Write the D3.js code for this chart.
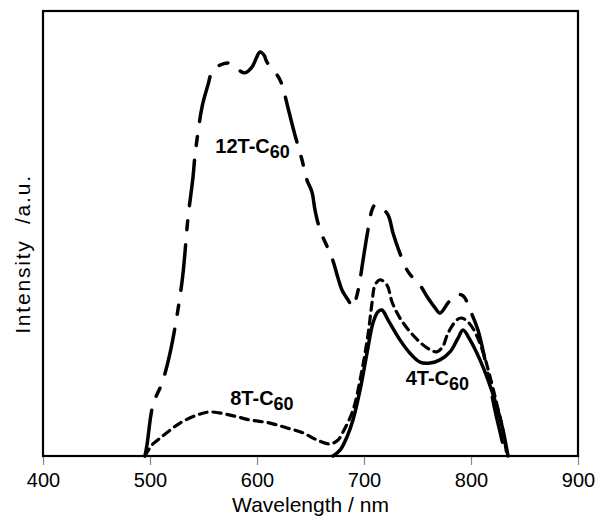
<!DOCTYPE html>
<html><head><meta charset="utf-8">
<script src="https://cdn.jsdelivr.net/npm/d3@7"></script>
<style>body{margin:0;background:#fff}svg{display:block}text{font-family:"Liberation Sans",Arial,sans-serif}</style>
</head><body>
<svg id="c" width="599" height="517"></svg>
<script>
// Data (wavelength nm, relative intensity 0-100)
const xTicks = [400, 500, 600, 700, 800, 900];
const wl12T = [495.3,497.2,502.8,511.2,518.7,529.9,535.5,540.2,542.1,548.6,554.2,557.9,565,573.8,581.3,588.8,595.3,602.8,606.5,609.3,616.8,621.5,624.3,629,635.5,642.1,646.7,651.4,654.2,658.9,670.1,675.7,679.4,685,689.7,693.5,696.3,699.1,703.7,707.5,710.3,715,722.4,727.1,731.8,740.2,745.8,752.3,759.8,766.4,771,778.5,785,792.5,799.1,806.5,813.1,822.4,829.9,831.8];
const int12T = [0,2.5,11.5,16.4,23.1,39.1,53.5,62.7,67.6,78.4,83.4,86.3,87.8,88.3,87.0,86.1,87.4,90.8,90.1,88.5,86.3,84.5,82.7,78.2,72.1,66.5,62.0,59.3,55.3,50.8,44.5,40.0,37.3,35.1,33.5,36.2,39.6,44.0,50.8,55.3,56.4,56.0,54.2,50.1,46.7,41.8,40.0,38.4,35.5,33.3,32.1,34.4,36.2,36.0,32.8,28.3,21.6,10.3,2.5,0];
const wl8T = [495.3,501.9,509.3,518.7,528,543.9,556.1,574.8,593.5,612.1,628,643,656.1,668.2,675.7,680.4,689.7,698.1,703.7,707.5,710.3,715,721.5,726.2,733.6,744.9,758.9,768.2,773.8,778.5,786.9,791.6,797.2,802.8,811.2,817.8,824.3,829.9,833.6];
const int8T = [0,2.5,4.0,5.8,7.4,9.2,9.9,9.2,8.1,7.4,6.3,5.2,3.6,2.7,3.6,5.4,10.3,19.3,27.2,34.4,38.4,39.6,38.4,34.6,31.0,27.4,24.3,23.4,24.7,27.6,30.6,31.0,30.1,28.3,23.4,17.8,11.5,5.8,0];
const wl4T = [671,677.6,684.1,689.7,696.3,702.8,708.4,713.1,716.8,722.4,733.6,743,752.3,761.7,771,780.4,787.9,792.5,799.1,808.4,815.9,824.3,829.9,834.6];
const int4T = [0,1.3,4.3,8.1,14.8,23.1,29.9,32.4,32.8,30.6,26.1,23.1,21.1,20.9,21.6,23.4,26.5,28.3,26.1,21.6,17.1,11.0,5.8,0];
const labels = [
  {main:"12T-C", sub:"60", wl:561, y:68.1},
  {main:"8T-C", sub:"60", wl:575, y:11.5},
  {main:"4T-C", sub:"60", wl:739, y:16}
];

const svg = d3.select("#c");
const L = 43, R = 578, T = 11, B = 456;
const x = d3.scaleLinear().domain([400, 900]).range([L, R]);
const y = d3.scaleLinear().domain([0, 100]).range([B, T]);

// x axis ticks
const ax = svg.append("g").attr("transform", `translate(0,${B})`)
  .call(d3.axisBottom(x).tickValues(xTicks).tickSize(9).tickPadding(8).tickFormat(d3.format("d")));
ax.select(".domain").remove();
ax.selectAll("line").attr("stroke", "#888").attr("stroke-width", 1.2);
ax.selectAll("text").attr("font-size", 20).attr("fill", "#000").attr("font-family", "Liberation Sans, Arial, sans-serif");

const line = d3.line().x(d => x(d[0])).y(d => y(d[1])).curve(d3.curveCatmullRom.alpha(0.5));
const mk = (w, v) => w.map((d, i) => [d, v[i]]);

svg.append("path").datum(mk(wl12T, int12T)).attr("d", line)
  .attr("fill", "none").attr("stroke", "#000").attr("stroke-width", 3.5)
  .attr("stroke-dasharray", "46,15,9,15").attr("stroke-linecap", "round");
svg.append("path").datum(mk(wl8T, int8T)).attr("d", line)
  .attr("fill", "none").attr("stroke", "#000").attr("stroke-width", 3.2)
  .attr("stroke-dasharray", "8,6").attr("stroke-linecap", "round");
svg.append("path").datum(mk(wl4T, int4T)).attr("d", line)
  .attr("fill", "none").attr("stroke", "#000").attr("stroke-width", 3.5)
  .attr("stroke-linecap", "round");

// frame
svg.append("rect").attr("x", L).attr("y", T).attr("width", R - L).attr("height", B - T)
  .attr("fill", "none").attr("stroke", "#000").attr("stroke-width", 2.2);

// curve labels
labels.forEach(l => {
  const t = svg.append("text").attr("x", x(l.wl)).attr("y", y(l.y))
    .attr("font-size", 20).attr("font-weight", "bold").attr("fill", "#000");
  t.append("tspan").text(l.main);
  t.append("tspan").attr("dy", 5).attr("font-size", 18).text(l.sub);
});

// axis titles
svg.append("text").attr("x", (L + R) / 2).attr("y", 512).attr("text-anchor", "middle")
  .attr("font-size", 21).text("Wavelength / nm");
svg.append("text").attr("transform", `translate(30,254) rotate(-90)`).attr("text-anchor", "middle")
  .attr("font-size", 21).attr("letter-spacing", 1.8).attr("xml:space", "preserve").text("Intensity  /a.u.");
</script>
</body></html>
